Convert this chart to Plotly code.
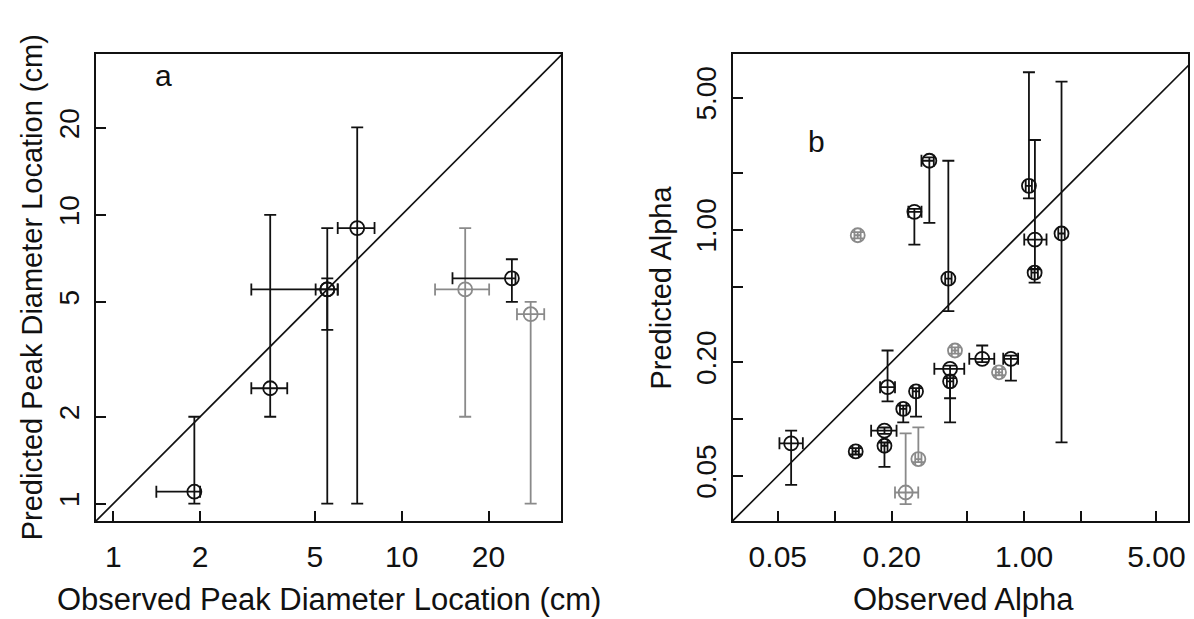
import plotly.graph_objects as go

# ---------------- Panel a: peak diameter location (cm) ----------------
a_black_x = [1.91, 3.50, 5.52, 5.52, 7.01, 24.1]
a_black_xlo = [1.41, 3.01, 3.01, 5.03, 6.00, 15.0]
a_black_xhi = [2.00, 4.01, 6.00, 6.00, 8.05, 24.8]
a_black_y = [1.10, 2.51, 5.52, 5.52, 9.00, 6.03]
a_black_ylo = [1.00, 2.00, 4.00, 1.00, 1.00, 5.00]
a_black_yhi = [2.00, 10.0, 6.03, 9.00, 20.1, 7.02]

a_grey_x = [16.6, 28.0]
a_grey_xlo = [13.05, 25.1]
a_grey_xhi = [20.1, 31.2]
a_grey_y = [5.52, 4.53]
a_grey_ylo = [2.00, 1.00]
a_grey_yhi = [9.00, 5.00]

a_ticks = [1, 2, 5, 10, 20]
a_ticktext = ["1", "2", "5", "10", "20"]

# ---------------- Panel b: alpha ----------------
b_black_x = [0.0588, 0.129, 0.183, 0.183, 0.230, 0.2687, 0.190, 0.4065, 0.4065,
             0.601, 0.852, 0.2633, 0.3159, 0.398, 1.061, 1.141, 1.137, 1.577]
b_black_xlo = [0.051, 0.124, 0.176, 0.1556, 0.221, 0.258, 0.1735, 0.3357, 0.391,
               0.5135, 0.776, 0.2447, 0.287, 0.383, 1.02, 1.002, 1.093, 1.516]
b_black_xhi = [0.0678, 0.134, 0.190, 0.212, 0.239, 0.279, 0.208, 0.483, 0.423,
               0.696, 0.93, 0.2872, 0.3335, 0.414, 1.10, 1.314, 1.183, 1.64]
b_black_y = [0.0742, 0.0673, 0.0721, 0.0866, 0.1129, 0.1398, 0.147, 0.1838, 0.158,
             0.2077, 0.2077, 1.243, 2.315, 0.5512, 1.706, 0.887, 0.593, 0.955]
b_black_ylo = [0.0448, 0.0648, 0.0558, 0.0832, 0.0958, 0.1028, 0.1238, 0.1285, 0.0958,
               0.1995, 0.1594, 0.835, 1.087, 0.3713, 1.463, 0.62, 0.525, 0.0751]
b_black_yhi = [0.0866, 0.070, 0.075, 0.090, 0.1175, 0.1455, 0.2298, 0.191, 0.164,
               0.2443, 0.216, 1.29, 2.41, 2.315, 6.80, 2.98, 0.617, 6.07]

b_grey_x = [0.4315, 0.737, 0.2764, 0.2368, 0.1322]
b_grey_xlo = [0.415, 0.709, 0.266, 0.208, 0.127]
b_grey_xhi = [0.449, 0.766, 0.287, 0.276, 0.137]
b_grey_y = [0.2298, 0.1763, 0.0613, 0.0408, 0.935]
b_grey_ylo = [0.221, 0.170, 0.059, 0.0354, 0.90]
b_grey_yhi = [0.239, 0.183, 0.0902, 0.0838, 0.97]

b_ticks = [0.05, 0.1, 0.2, 0.5, 1, 2, 5]
b_ticktext = ["0.05", "", "0.20", "", "1.00", "", "5.00"]

BLACK = "#111111"
GREY = "#8a8a8a"
FONT = "Liberation Sans, Arial, sans-serif"


def err(c, lo, hi):
    plus = [h - v for v, h in zip(c, hi)]
    minus = [v - l for v, l in zip(c, lo)]
    return plus, minus


def pts(x, xlo, xhi, y, ylo, yhi, color, xa, ya):
    xp, xm = err(x, xlo, xhi)
    yp, ym = err(y, ylo, yhi)
    return go.Scatter(
        x=x, y=y, mode="markers", xaxis=xa, yaxis=ya, showlegend=False,
        marker=dict(symbol="circle-open", size=14, color=color, line=dict(width=1.8)),
        error_x=dict(type="data", array=xp, arrayminus=xm, color=color, thickness=1.8, width=6),
        error_y=dict(type="data", array=yp, arrayminus=ym, color=color, thickness=1.8, width=6),
    )


fig = go.Figure()

# 1:1 lines
fig.add_trace(go.Scatter(x=[0.5, 50], y=[0.5, 50], mode="lines", xaxis="x", yaxis="y",
                         line=dict(color=BLACK, width=1.7), showlegend=False, hoverinfo="skip"))
fig.add_trace(go.Scatter(x=[0.01, 20], y=[0.01, 20], mode="lines", xaxis="x2", yaxis="y2",
                         line=dict(color=BLACK, width=1.7), showlegend=False, hoverinfo="skip"))

fig.add_trace(pts(a_grey_x, a_grey_xlo, a_grey_xhi, a_grey_y, a_grey_ylo, a_grey_yhi, GREY, "x", "y"))
fig.add_trace(pts(a_black_x, a_black_xlo, a_black_xhi, a_black_y, a_black_ylo, a_black_yhi, BLACK, "x", "y"))
fig.add_trace(pts(b_grey_x, b_grey_xlo, b_grey_xhi, b_grey_y, b_grey_ylo, b_grey_yhi, GREY, "x2", "y2"))
fig.add_trace(pts(b_black_x, b_black_xlo, b_black_xhi, b_black_y, b_black_ylo, b_black_yhi, BLACK, "x2", "y2"))

axis_common = dict(type="log", showgrid=False, zeroline=False, showline=True, mirror=True,
                   linecolor=BLACK, linewidth=1.8, ticks="inside", ticklen=10, tickwidth=1.8,
                   tickcolor=BLACK)

fig.update_layout(
    width=1194, height=619,
    margin=dict(l=96, r=4, t=54, b=98),
    paper_bgcolor="white", plot_bgcolor="white",
    font=dict(family=FONT, color=BLACK),
    xaxis=dict(axis_common, domain=[0, 0.426], range=[-0.06, 1.553], anchor="y",
               tickvals=a_ticks, ticktext=a_ticktext, tickfont=dict(size=30),
               ticklabelstandoff=8),
    yaxis=dict(axis_common, domain=[0, 1], range=[-0.06, 1.557], anchor="x",
               tickvals=a_ticks, ticktext=a_ticktext, tickfont=dict(size=28),
               tickangle=-90, ticklabelstandoff=4),
    xaxis2=dict(axis_common, domain=[0.5832, 1], range=[-1.5385, 0.866], anchor="y2",
                tickvals=b_ticks, ticktext=b_ticktext, tickfont=dict(size=30),
                ticklabelstandoff=8),
    yaxis2=dict(axis_common, domain=[0, 1], range=[-1.54, 0.929], anchor="x2",
                tickvals=b_ticks, ticktext=b_ticktext, tickfont=dict(size=28),
                tickangle=-90, ticklabelstandoff=4),
)

ann = [
    dict(text="a", x=0.0622, y=0.955, size=30, angle=0),
    dict(text="b", x=0.66, y=0.812, size=30, angle=0),
    dict(text="Observed Peak Diameter Location (cm)", x=0.213, y=-0.168, size=31, angle=0),
    dict(text="Observed Alpha", x=0.794, y=-0.168, size=31, angle=0),
    dict(text="Predicted Peak Diameter Location (cm)", x=-0.0588, y=0.5, size=29, angle=-90),
    dict(text="Predicted Alpha", x=0.5165, y=0.5, size=29, angle=-90),
]
for a in ann:
    fig.add_annotation(text=a["text"], x=a["x"], y=a["y"], xref="paper", yref="paper",
                       xanchor="center", yanchor="middle", showarrow=False,
                       textangle=a["angle"], font=dict(size=a["size"], color=BLACK, family=FONT))

fig.write_html("out.html")
